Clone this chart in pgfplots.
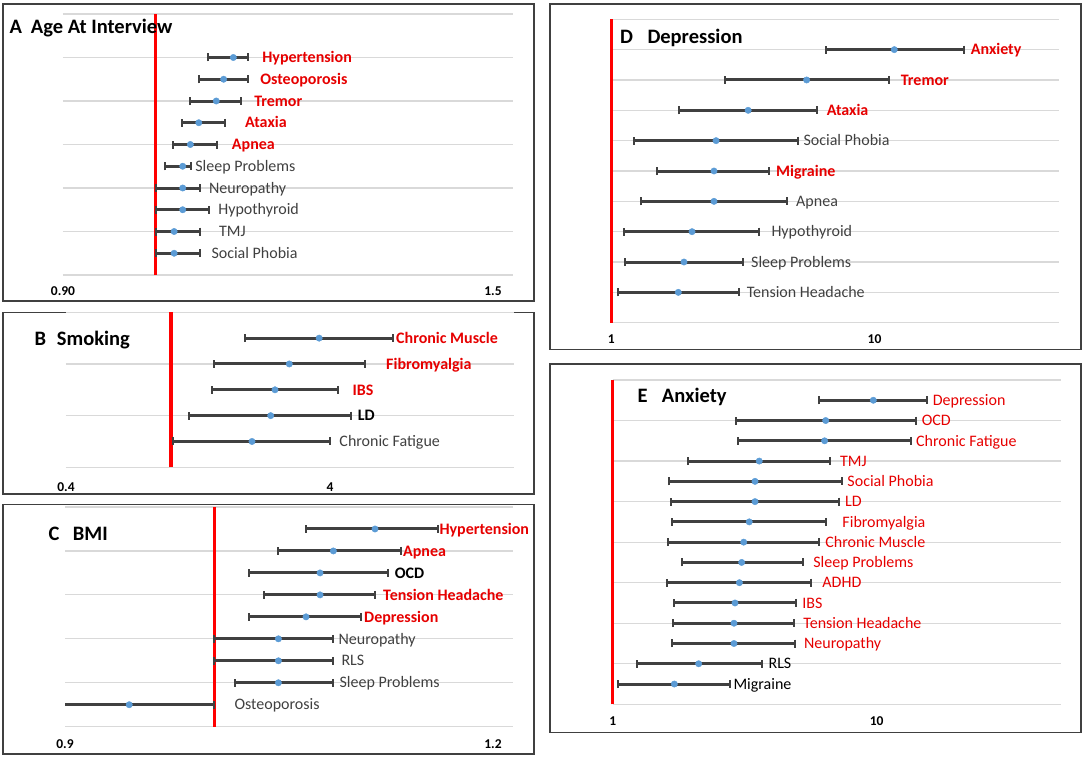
\documentclass[border=0pt]{standalone}
\usepackage{fontspec}
\setmainfont{Carlito}
\usepackage{pgfplots}
\usepackage{pgfplotstable}
\pgfplotsset{compat=1.18}

\definecolor{refred}{HTML}{FF0000}
\definecolor{labred}{HTML}{E60000}
\definecolor{barcol}{HTML}{404040}
\definecolor{dotcol}{HTML}{5B9BD5}
\definecolor{gridcol}{HTML}{D9D9D9}
\definecolor{txtgray}{HTML}{404040}

% rows counted from the bottom: y lo mid hi
\pgfplotstableread{
y lo mid hi
10 1.061 1.092 1.110
9  1.050 1.080 1.110
8  1.040 1.071 1.102
7  1.030 1.050 1.082
6  1.020 1.040 1.072
5  1.010 1.031 1.041
4  1.000 1.031 1.051
3  1.000 1.031 1.062
2  1.000 1.021 1.051
1  1.000 1.021 1.051
}\tabA
\pgfplotstableread{
y lo mid hi
5 1.91  3.64  6.95
4 1.455 2.805 5.43
3 1.425 2.476 4.28
2 1.169 2.385 4.82
1 1.02  2.026 4.00
}\tabB
\pgfplotstableread{
y lo mid hi
9 1.0614 1.1076 1.1500
8 1.0429 1.0797 1.1250
7 1.0234 1.0708 1.1161
6 1.0333 1.0708 1.1076
5 1.0234 1.0614 1.0982
4 1.0000 1.0429 1.0797
3 1.0000 1.0429 1.0797
2 1.0140 1.0429 1.0797
1 0.8800 0.9430 1.0000
}\tabC
\pgfplotstableread{
y lo mid hi
9 6.52  11.88 21.85
8 2.70  5.52  11.34
7 1.813 3.31  6.04
6 1.22  2.50  5.12
5 1.495 2.455 3.98
4 1.293 2.455 4.65
3 1.117 2.026 3.65
2 1.13  1.888 3.155
1 1.057 1.797 3.06
}\tabD
\pgfplotstableread{
y lo mid hi
15 6.04  9.71  15.55
14 2.93  6.41  14.05
13 2.99  6.35  13.49
12 1.934 3.59  6.65
11 1.639 3.46  7.37
10 1.659 3.46  7.22
9  1.677 3.29  6.41
8  1.624 3.135 6.04
7  1.83  3.08  5.24
6  1.61  3.02  5.65
5  1.712 2.906 4.93
4  1.692 2.88  4.86
3  1.677 2.88  4.90
2  1.233 2.117 3.67
1  1.044 1.712 2.79
}\tabE

\pgfplotsset{
  forest/.style={
    scale only axis, clip mode=individual,
    axis line style={draw=none},
    ymajorgrids, grid style={gridcol, line width=1.2pt},
    yticklabels={}, major tick length=0pt, minor tick length=0pt,
    minor x tick num=0, xminorgrids=false,
    xticklabel style={font=\fontsize{13.5}{14}\selectfont\bfseries, inner sep=0pt, anchor=north, text=black},
  },
  ci/.style={only marks, mark=*, mark size=3.2pt, mark options={draw=dotcol, fill=dotcol},
    error bars/.cd, x dir=both, x explicit, error mark=|,
    error bar style={barcol, line width=3pt},
    error mark options={barcol, line width=2pt, mark size=4pt}},
  refline/.style={refred, line width=3.3pt, no marks},
}
\tikzset{
  lbl/.style={anchor=base west, inner sep=0pt, yshift=-5.2pt, font=\fontsize{16}{18}\selectfont},
  rb/.style={text=labred, font=\fontsize{16}{18}\selectfont\bfseries},
  rr/.style={text=labred},
  gr/.style={text=txtgray},
  bb/.style={text=black, font=\fontsize{16}{18}\selectfont\bfseries},
  br/.style={text=black},
  ttl/.style={anchor=base west, inner sep=0pt, font=\fontsize{20.5}{24}\selectfont\bfseries},
  frm/.style={draw=barcol, line width=1.5pt},
}
\newcommand{\lab}[5]{\node[lbl,#4] at ([xshift=#3pt]axis cs:#1,#2) {#5};}
\newcommand{\ciplot}[1]{\addplot[ci] table[x=mid, y=y,
  x error plus expr=\thisrow{hi}-\thisrow{mid},
  x error minus expr=\thisrow{mid}-\thisrow{lo}] {#1};}

\begin{document}
\begin{tikzpicture}
\path[use as bounding box] (0pt,0pt) rectangle (1084pt,-757pt);

% panel frames
\draw[frm] (3pt,-4pt) rectangle (534pt,-301pt);
\draw[frm] (3pt,-312.5pt) rectangle (534pt,-494pt);
\draw[frm] (3pt,-504.5pt) rectangle (534pt,-754pt);
\draw[frm] (550pt,-4pt) rectangle (1081pt,-349.3pt);
\draw[frm] (550pt,-364pt) rectangle (1081pt,-732.3pt);

% A: age at interview
\begin{axis}[forest, at={(63pt,-275pt)}, anchor=south west,
  width=450pt, height=261pt, xmode=log, xmin=0.9, xmax=1.5,
  ymin=0, ymax=12, ytick={0,2,...,12},
  xtick={0.9}, xticklabels={0.90},
  extra x ticks={1.5}, extra x tick labels={1.5},
  extra x tick style={xticklabel style={xshift=-20pt}},
  xticklabel style={yshift=-11.5pt}]
\addplot[refline] coordinates {(1,0) (1,12)};
\ciplot{\tabA}
\lab{1.110}{10}{14.4}{rb}{Hypertension}
\lab{1.110}{9}{12.4}{rb}{Osteoporosis}
\lab{1.102}{8}{12.7}{rb}{Tremor}
\lab{1.082}{7}{19.7}{rb}{Ataxia}
\lab{1.072}{6}{14.7}{rb}{Apnea}
\lab{1.041}{5}{4}{gr}{Sleep Problems}
\lab{1.051}{4}{9.3}{gr}{Neuropathy}
\lab{1.062}{3}{9.3}{gr}{Hypothyroid}
\lab{1.051}{2}{19.3}{gr}{TMJ}
\lab{1.051}{1}{11.7}{gr}{Social Phobia}
\end{axis}
\node[ttl] at (9.3pt,-33.8pt) {A};
\node[ttl] at (30.7pt,-33.8pt) {Age At Interview};

% B: smoking
\begin{axis}[forest, at={(66pt,-467.3pt)}, anchor=south west,
  width=448.5pt, height=155pt, xmode=log, xmin=0.4, xmax=20,
  ymin=0, ymax=6, ytick={0,2,4,6},
  xtick={0.4,4}, xticklabels={0.4,4},
  xticklabel style={yshift=-14.9pt}]
\addplot[refline] coordinates {(1,0) (1,6)};
\ciplot{\tabB}
\lab{6.95}{5}{2.7}{rb}{Chronic Muscle}
\lab{5.43}{4}{21}{rb}{Fibromyalgia}
\lab{4.28}{3}{14.6}{rb}{IBS}
\lab{4.82}{2}{6.4}{bb}{LD}
\lab{4.00}{1}{9.3}{gr}{Chronic Fatigue}
\end{axis}
\node[ttl] at (34.3pt,-345.1pt) {B};
\node[ttl] at (56.7pt,-345.1pt) {Smoking};

% C: BMI
\begin{axis}[forest, at={(65pt,-726.7pt)}, anchor=south west,
  width=448pt, height=219.7pt, xmin=0.9, xmax=1.2,
  ymin=0, ymax=10, ytick={0,2,...,10},
  xtick={0.9}, xticklabels={0.9},
  extra x ticks={1.2}, extra x tick labels={1.2},
  extra x tick style={xticklabel style={xshift=-20pt}},
  xticklabel style={yshift=-13.1pt}]
\addplot[refline] coordinates {(1,0) (1,10)};
\ciplot{\tabC}
\lab{1.1500}{9}{1}{rb}{Hypertension}
\lab{1.1250}{8}{2}{rb}{Apnea}
\lab{1.1161}{7}{7}{bb}{OCD}
\lab{1.1076}{6}{8}{rb}{Tension Headache}
\lab{1.0982}{5}{3}{rb}{Depression}
\lab{1.0797}{4}{5}{gr}{Neuropathy}
\lab{1.0797}{3}{8}{gr}{RLS}
\lab{1.0797}{2}{6}{gr}{Sleep Problems}
\lab{1.0000}{1}{20}{gr}{Osteoporosis}
\end{axis}
\node[ttl] at (48.3pt,-540.1pt) {C};
\node[ttl] at (72.7pt,-540.1pt) {BMI};

% D: depression
\begin{axis}[forest, clip=false, at={(611.3pt,-322.7pt)}, anchor=south west,
  width=447.3pt, height=303.4pt, xmode=log, xmin=1, xmax=50,
  ymin=0, ymax=10, ytick={0,1,...,10},
  xtick={1,10}, xticklabels={1,10},
  xticklabel style={yshift=-11.8pt}]
\addplot[refline] coordinates {(1,0) (1,10)};
\ciplot{\tabD}
\lab{21.85}{9}{6.7}{rb}{Anxiety}
\lab{11.34}{8}{11.7}{rb}{Tremor}
\lab{6.04}{7}{9.7}{rb}{Ataxia}
\lab{5.12}{6}{5.3}{gr}{Social Phobia}
\lab{3.98}{5}{6.7}{rb}{Migraine}
\lab{4.65}{4}{9}{gr}{Apnea}
\lab{3.65}{3}{12}{gr}{Hypothyroid}
\lab{3.155}{2}{8.3}{gr}{Sleep Problems}
\lab{3.06}{1}{7.4}{gr}{Tension Headache}
\end{axis}
\node[ttl] at (620pt,-43.5pt) {D};
\node[ttl] at (647.3pt,-43.5pt) {Depression};

% E: anxiety
\begin{axis}[forest, clip=false, at={(612.7pt,-704.3pt)}, anchor=south west,
  width=448.5pt, height=324.3pt, xmode=log, xmin=1, xmax=50,
  ymin=0, ymax=16, ytick={0,2,...,16},
  xtick={1,10}, xticklabels={1,10},
  xticklabel style={yshift=-11.9pt}]
\addplot[refline] coordinates {(1,0) (1,16)};
\ciplot{\tabE}
\lab{15.55}{15}{5.4}{rr}{Depression}
\lab{14.05}{14}{6}{rr}{OCD}
\lab{13.49}{13}{5}{rr}{Chronic Fatigue}
\lab{6.65}{12}{10}{rr}{TMJ}
\lab{7.37}{11}{5.6}{rr}{Social Phobia}
\lab{7.22}{10}{5.7}{rr}{LD}
\lab{6.41}{9}{16.6}{rr}{Fibromyalgia}
\lab{6.04}{8}{6.3}{rr}{Chronic Muscle}
\lab{5.24}{7}{10.6}{rr}{Sleep Problems}
\lab{5.65}{6}{11}{rr}{ADHD}
\lab{4.93}{5}{6.6}{rr}{IBS}
\lab{4.86}{4}{9.3}{rr}{Tension Headache}
\lab{4.90}{3}{9}{rr}{Neuropathy}
\lab{3.67}{2}{6.6}{br}{RLS}
\lab{2.79}{1}{3}{br}{Migraine}
\end{axis}
\node[ttl] at (637.3pt,-402.5pt) {E};
\node[ttl] at (661.7pt,-402.5pt) {Anxiety};
\end{tikzpicture}
\end{document}
